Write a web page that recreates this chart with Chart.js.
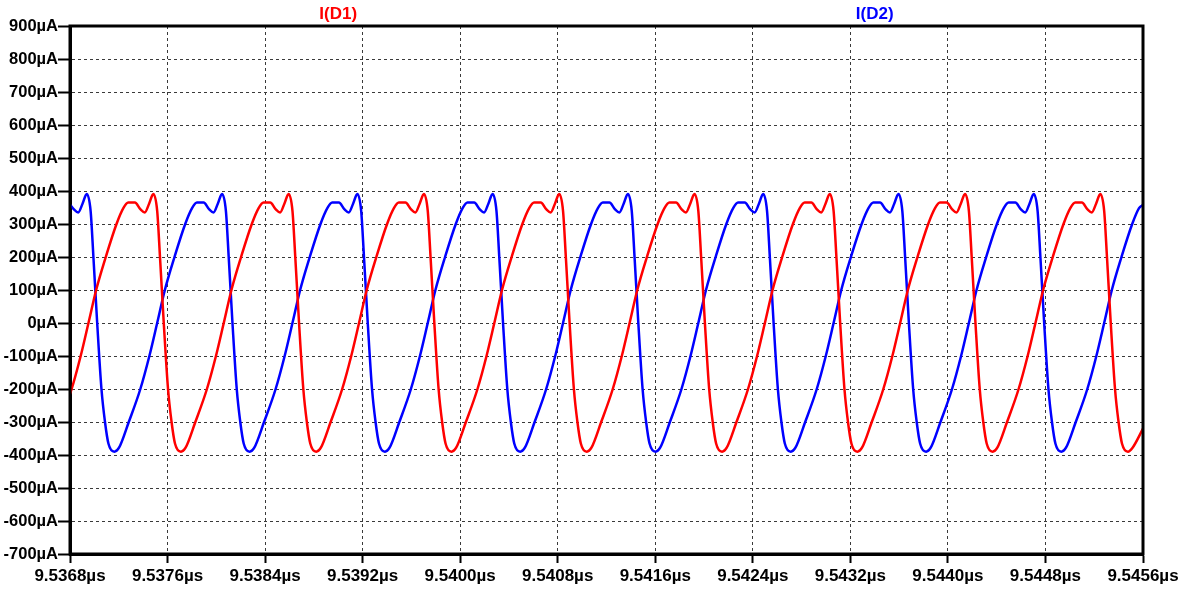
<!DOCTYPE html>
<html>
<head>
<meta charset="utf-8">
<script src="https://cdn.jsdelivr.net/npm/chart.js@4.4.1/dist/chart.umd.min.js"></script>
<style>
  html, body { margin: 0; padding: 0; background: #ffffff; }
  #wrap { width: 1187px; height: 591px; position: relative; }
</style>
</head>
<body>
<div id="wrap"><canvas id="c" width="1187" height="591"></canvas></div>
<script>
// Time in ns, current in µA
const xTickValues = [9536.8, 9537.6, 9538.4, 9539.2, 9540.0, 9540.8, 9541.6, 9542.4, 9543.2, 9544.0, 9544.8, 9545.6];
const xTickLabels = ['9.5368µs','9.5376µs','9.5384µs','9.5392µs','9.5400µs','9.5408µs','9.5416µs','9.5424µs','9.5432µs','9.5440µs','9.5448µs','9.5456µs'];
const yTickValues = [-700, -600, -500, -400, -300, -200, -100, 0, 100, 200, 300, 400, 500, 600, 700, 800, 900];
const yTickLabels = ['-700µA','-600µA','-500µA','-400µA','-300µA','-200µA','-100µA','0µA','100µA','200µA','300µA','400µA','500µA','600µA','700µA','800µA','900µA'];
const seriesNames = ['I(D1)', 'I(D2)'];

const seriesD1 = [
[9536.7185,-300],[9536.8135,-200],[9536.8875,-100],[9536.9515,0],[9537.0145,100],[9537.0935,200],[9537.1815,300],[9537.2375,348],[9537.2775,365],[9537.3325,365],[9537.3765,345],[9537.4135,335],[9537.4495,362],
[9537.4830,391],[9537.5150,340],[9537.5380,200],[9537.5690,0],[9537.6040,-200],[9537.6330,-300],[9537.6610,-365],[9537.7100,-390],[9537.7480,-378],[9537.8280,-300],[9537.9230,-200],[9537.9970,-100],[9538.0610,0],[9538.1240,100],[9538.2030,200],[9538.2910,300],[9538.3470,348],[9538.3870,365],[9538.4420,365],[9538.4860,345],[9538.5230,335],[9538.5590,362],
[9538.5925,391],[9538.6245,340],[9538.6475,200],[9538.6785,0],[9538.7135,-200],[9538.7425,-300],[9538.7705,-365],[9538.8195,-390],[9538.8575,-378],[9538.9375,-300],[9539.0325,-200],[9539.1065,-100],[9539.1705,0],[9539.2335,100],[9539.3125,200],[9539.4005,300],[9539.4565,348],[9539.4965,365],[9539.5515,365],[9539.5955,345],[9539.6325,335],[9539.6685,362],
[9539.7020,391],[9539.7340,340],[9539.7570,200],[9539.7880,0],[9539.8230,-200],[9539.8520,-300],[9539.8800,-365],[9539.9290,-390],[9539.9670,-378],[9540.0470,-300],[9540.1420,-200],[9540.2160,-100],[9540.2800,0],[9540.3430,100],[9540.4220,200],[9540.5100,300],[9540.5660,348],[9540.6060,365],[9540.6610,365],[9540.7050,345],[9540.7420,335],[9540.7780,362],
[9540.8115,391],[9540.8435,340],[9540.8665,200],[9540.8975,0],[9540.9325,-200],[9540.9615,-300],[9540.9895,-365],[9541.0385,-390],[9541.0765,-378],[9541.1565,-300],[9541.2515,-200],[9541.3255,-100],[9541.3895,0],[9541.4525,100],[9541.5315,200],[9541.6195,300],[9541.6755,348],[9541.7155,365],[9541.7705,365],[9541.8145,345],[9541.8515,335],[9541.8875,362],
[9541.9210,391],[9541.9530,340],[9541.9760,200],[9542.0070,0],[9542.0420,-200],[9542.0710,-300],[9542.0990,-365],[9542.1480,-390],[9542.1860,-378],[9542.2660,-300],[9542.3610,-200],[9542.4350,-100],[9542.4990,0],[9542.5620,100],[9542.6410,200],[9542.7290,300],[9542.7850,348],[9542.8250,365],[9542.8800,365],[9542.9240,345],[9542.9610,335],[9542.9970,362],
[9543.0305,391],[9543.0625,340],[9543.0855,200],[9543.1165,0],[9543.1515,-200],[9543.1805,-300],[9543.2085,-365],[9543.2575,-390],[9543.2955,-378],[9543.3755,-300],[9543.4705,-200],[9543.5445,-100],[9543.6085,0],[9543.6715,100],[9543.7505,200],[9543.8385,300],[9543.8945,348],[9543.9345,365],[9543.9895,365],[9544.0335,345],[9544.0705,335],[9544.1065,362],
[9544.1400,391],[9544.1720,340],[9544.1950,200],[9544.2260,0],[9544.2610,-200],[9544.2900,-300],[9544.3180,-365],[9544.3670,-390],[9544.4050,-378],[9544.4850,-300],[9544.5800,-200],[9544.6540,-100],[9544.7180,0],[9544.7810,100],[9544.8600,200],[9544.9480,300],[9545.0040,348],[9545.0440,365],[9545.0990,365],[9545.1430,345],[9545.1800,335],[9545.2160,362],
[9545.2495,391],[9545.2815,340],[9545.3045,200],[9545.3355,0],[9545.3705,-200],[9545.3995,-300],[9545.4275,-365],[9545.4765,-390],[9545.5145,-378],[9545.6000,-320]
];

const seriesD2 = [
[9536.7865,365],[9536.8305,345],[9536.8675,335],[9536.9035,362],
[9536.9370,391],[9536.9690,340],[9536.9920,200],[9537.0230,0],[9537.0580,-200],[9537.0870,-300],[9537.1150,-365],[9537.1640,-390],[9537.2020,-378],[9537.2820,-300],[9537.3770,-200],[9537.4510,-100],[9537.5150,0],[9537.5780,100],[9537.6570,200],[9537.7450,300],[9537.8010,348],[9537.8410,365],[9537.8960,365],[9537.9400,345],[9537.9770,335],[9538.0130,362],
[9538.0465,391],[9538.0785,340],[9538.1015,200],[9538.1325,0],[9538.1675,-200],[9538.1965,-300],[9538.2245,-365],[9538.2735,-390],[9538.3115,-378],[9538.3915,-300],[9538.4865,-200],[9538.5605,-100],[9538.6245,0],[9538.6875,100],[9538.7665,200],[9538.8545,300],[9538.9105,348],[9538.9505,365],[9539.0055,365],[9539.0495,345],[9539.0865,335],[9539.1225,362],
[9539.1560,391],[9539.1880,340],[9539.2110,200],[9539.2420,0],[9539.2770,-200],[9539.3060,-300],[9539.3340,-365],[9539.3830,-390],[9539.4210,-378],[9539.5010,-300],[9539.5960,-200],[9539.6700,-100],[9539.7340,0],[9539.7970,100],[9539.8760,200],[9539.9640,300],[9540.0200,348],[9540.0600,365],[9540.1150,365],[9540.1590,345],[9540.1960,335],[9540.2320,362],
[9540.2655,391],[9540.2975,340],[9540.3205,200],[9540.3515,0],[9540.3865,-200],[9540.4155,-300],[9540.4435,-365],[9540.4925,-390],[9540.5305,-378],[9540.6105,-300],[9540.7055,-200],[9540.7795,-100],[9540.8435,0],[9540.9065,100],[9540.9855,200],[9541.0735,300],[9541.1295,348],[9541.1695,365],[9541.2245,365],[9541.2685,345],[9541.3055,335],[9541.3415,362],
[9541.3750,391],[9541.4070,340],[9541.4300,200],[9541.4610,0],[9541.4960,-200],[9541.5250,-300],[9541.5530,-365],[9541.6020,-390],[9541.6400,-378],[9541.7200,-300],[9541.8150,-200],[9541.8890,-100],[9541.9530,0],[9542.0160,100],[9542.0950,200],[9542.1830,300],[9542.2390,348],[9542.2790,365],[9542.3340,365],[9542.3780,345],[9542.4150,335],[9542.4510,362],
[9542.4845,391],[9542.5165,340],[9542.5395,200],[9542.5705,0],[9542.6055,-200],[9542.6345,-300],[9542.6625,-365],[9542.7115,-390],[9542.7495,-378],[9542.8295,-300],[9542.9245,-200],[9542.9985,-100],[9543.0625,0],[9543.1255,100],[9543.2045,200],[9543.2925,300],[9543.3485,348],[9543.3885,365],[9543.4435,365],[9543.4875,345],[9543.5245,335],[9543.5605,362],
[9543.5940,391],[9543.6260,340],[9543.6490,200],[9543.6800,0],[9543.7150,-200],[9543.7440,-300],[9543.7720,-365],[9543.8210,-390],[9543.8590,-378],[9543.9390,-300],[9544.0340,-200],[9544.1080,-100],[9544.1720,0],[9544.2350,100],[9544.3140,200],[9544.4020,300],[9544.4580,348],[9544.4980,365],[9544.5530,365],[9544.5970,345],[9544.6340,335],[9544.6700,362],
[9544.7035,391],[9544.7355,340],[9544.7585,200],[9544.7895,0],[9544.8245,-200],[9544.8535,-300],[9544.8815,-365],[9544.9305,-390],[9544.9685,-378],[9545.0485,-300],[9545.1435,-200],[9545.2175,-100],[9545.2815,0],[9545.3445,100],[9545.4235,200],[9545.5115,300],[9545.5675,348],[9545.6000,358]
];

const FONT = "'Liberation Sans', Arial, sans-serif";

const frameAndNames = {
  id: 'frameAndNames',
  afterDraw(chart) {
    const { ctx, chartArea: a } = chart;
    ctx.save();
    ctx.strokeStyle = '#000';
    ctx.lineWidth = 3;
    ctx.strokeRect(a.left, a.top, a.right - a.left, a.bottom - a.top);
    ctx.font = "bold 17px " + FONT;
    ctx.textAlign = 'center';
    ctx.textBaseline = 'middle';
    chart.data.datasets.forEach((ds, i) => {
      ctx.fillStyle = ds.borderColor;
      const x = a.left + (a.right - a.left) * (2 * i + 1) / 4;
      ctx.fillText(ds.label, x, 14);
    });
    ctx.restore();
  }
};

new Chart(document.getElementById('c'), {
  type: 'line',
  data: {
    datasets: [
      { label: seriesNames[0], data: seriesD1, borderColor: '#ff0000', borderWidth: 2.5, pointRadius: 0, fill: false, cubicInterpolationMode: 'monotone' },
      { label: seriesNames[1], data: seriesD2, borderColor: '#0000ff', borderWidth: 2.5, pointRadius: 0, fill: false, cubicInterpolationMode: 'monotone' }
    ]
  },
  options: {
    responsive: false,
    animation: false,
    events: [],
    layout: { padding: { top: 26, right: 44, left: 0, bottom: 0 } },
    plugins: { legend: { display: false }, tooltip: { enabled: false }, title: { display: false } },
    scales: {
      x: {
        type: 'linear',
        min: xTickValues[0],
        max: xTickValues[xTickValues.length - 1],
        afterBuildTicks: (s) => { s.ticks = xTickValues.map(v => ({ value: v })); },
        afterFit: (s) => { s.height = 37; },
        ticks: {
          autoSkip: false,
          maxRotation: 0,
          padding: 3,
          color: '#000',
          font: { family: FONT, size: 17, weight: 'bold' },
          callback: (v, i) => xTickLabels[i]
        },
        grid: { color: '#3a3a3a', lineWidth: 1, tickLength: 9, tickColor: '#000', tickWidth: 2, tickBorderDash: [] },
        border: { display: true, color: '#000', width: 3, dash: [3, 3] }
      },
      y: {
        type: 'linear',
        min: yTickValues[0],
        max: yTickValues[yTickValues.length - 1],
        afterBuildTicks: (s) => { s.ticks = yTickValues.map(v => ({ value: v })); },
        afterFit: (s) => { s.width = 70; },
        ticks: {
          autoSkip: false,
          padding: 0,
          color: '#000',
          font: { family: FONT, size: 16.5, weight: 'bold' },
          callback: (v, i) => yTickLabels[i]
        },
        grid: { color: '#3a3a3a', lineWidth: 1, tickLength: 12, tickColor: '#000', tickWidth: 2, tickBorderDash: [] },
        border: { display: true, color: '#000', width: 3, dash: [3, 3] }
      }
    }
  },
  plugins: [frameAndNames]
});
</script>
</body>
</html>
